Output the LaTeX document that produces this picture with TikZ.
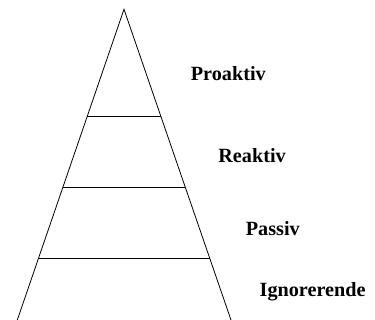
\documentclass[tikz,border=0pt]{standalone}
\usepackage{fontspec}
\setmainfont{Liberation Serif}
\tikzset{niveau/.style={anchor=base west,inner sep=0pt,font=\fontsize{20.2}{24}\selectfont\bfseries}}
\begin{document}
\begin{tikzpicture}[x=1pt,y=-1pt,line width=0.8pt]
    \useasboundingbox (0,0) rectangle (375,320);
    %pyramide
    \coordinate (top) at (124,9.3);
    \coordinate (vb) at (17.3,320);
    \coordinate (hb) at (231,320);
    \draw (vb) -- (top) -- (hb);
    %skillelinjer
    \draw (87.2,116.7) -- (160.8,116.7);
    \draw (62.8,187.7) -- (185.3,187.7);
    \draw (38.5,258.7) -- (209.8,258.7);
    %niveauer
    \node[niveau] (proaktiv) at (190.5,81) {Proaktiv};
    \node[niveau] (reaktiv) at (218,162.8) {Reaktiv};
    \node[niveau] (passiv) at (245.5,236) {Passiv};
    \node[niveau] (ignorerende) at (259.3,297) {Ignorerende};
  \end{tikzpicture}
\end{document}
